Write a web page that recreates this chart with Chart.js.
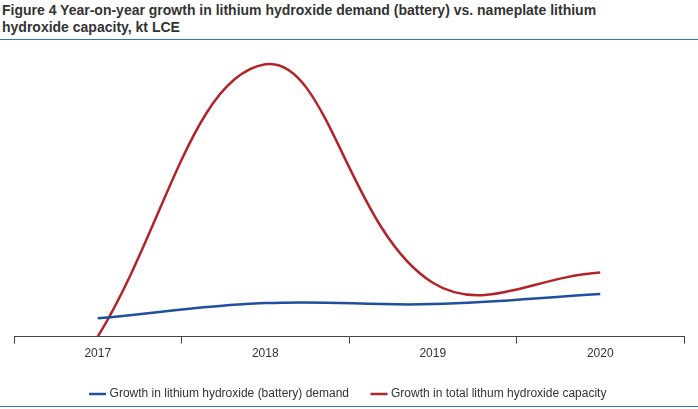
<!DOCTYPE html>
<html>
<head>
<meta charset="utf-8">
<script src="https://cdn.jsdelivr.net/npm/chart.js@4"></script>
<style>
  body { margin: 0; width: 698px; height: 409px; background: #fff; font-family: "Liberation Sans", Arial, sans-serif; overflow: hidden; }
  #title { position: absolute; left: 2px; top: 0px; width: 640px; font-size: 14px; font-weight: bold; color: #333; line-height: 17px; padding-top: 2px; }
  #topline { position: absolute; left: 0; top: 39px; width: 698px; height: 1px; background: #3a6db5; }
  #botline { position: absolute; left: 0; top: 406px; width: 698px; height: 1px; background: #3a6db5; z-index: 2; }
  #wrap { position: absolute; left: 0; top: 42px; width: 698px; height: 372px; }
</style>
</head>
<body>
<div id="title">Figure 4 Year-on-year growth in lithium hydroxide demand (battery) vs. nameplate lithium hydroxide capacity, kt LCE</div>
<div id="topline"></div>
<div id="wrap"><canvas id="c"></canvas></div>
<div id="botline"></div>
<script>
// categories and series (no y axis shown)
const years = ["2017", "2018", "2019", "2020"];
const demandGrowth = [18, 33, 32, 42];
const capacityGrowth = [0, 268, 53, 63];

new Chart(document.getElementById("c"), {
  type: "line",
  data: {
    labels: years,
    datasets: [
      { label: "Growth in lithium hydroxide (battery) demand", data: demandGrowth,
        borderColor: "#1f4f9e", borderWidth: 2.5, pointRadius: 0, tension: 0.4 },
      { label: "Growth in total lithum hydroxide capacity", data: capacityGrowth,
        borderColor: "#b3232a", borderWidth: 2.5, pointRadius: 0, tension: 0.4 }
    ]
  },
  options: {
    responsive: true,
    maintainAspectRatio: false,
    animation: false,
    layout: { padding: { left: 14, right: 14, top: 0, bottom: 4 } },
    plugins: {
      legend: {
        position: "bottom",
        labels: { usePointStyle: true, pointStyle: "line", boxWidth: 34, color: "#333",
                  font: { family: "Liberation Sans", size: 12 }, padding: 24 }
      },
      tooltip: { enabled: false }
    },
    scales: {
      x: {
        offset: true,
        grid: { offset: true, drawOnChartArea: false, tickLength: 7, color: "#444" },
        border: { color: "#444" },
        ticks: { color: "#333", font: { family: "Liberation Sans", size: 12 } }
      },
      y: { display: false, min: 0, max: 290 }
    }
  }
});
</script>
</body>
</html>
